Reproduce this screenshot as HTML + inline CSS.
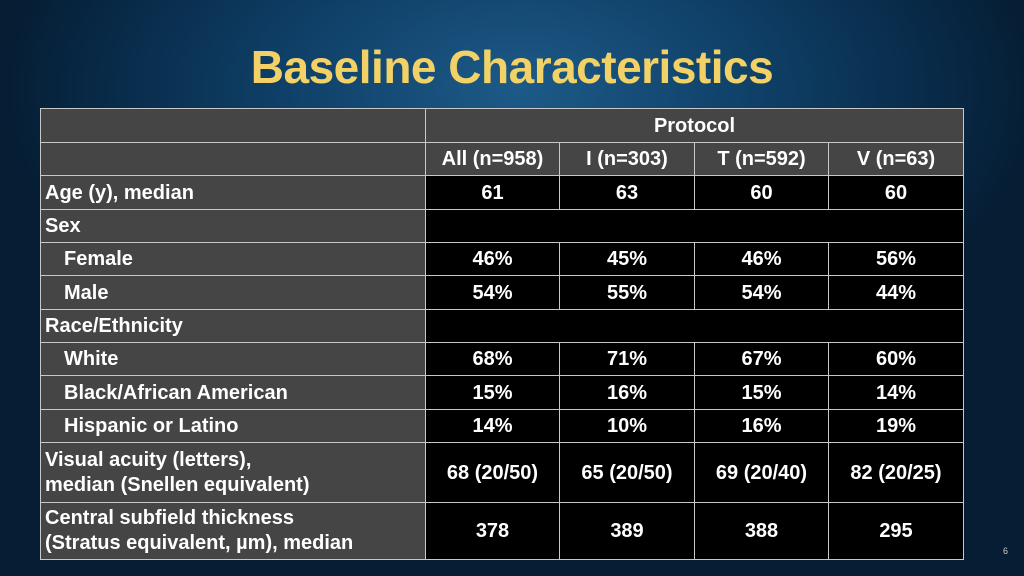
<!DOCTYPE html>
<html><head><meta charset="utf-8"><style>
body{margin:0;width:1024px;height:576px;overflow:hidden;font-family:"Liberation Sans",Arial,sans-serif;
background:radial-gradient(ellipse 520px 300px at 520px 90px,#1d5a88 0%,#0f4068 45%,#082a48 80%,#061d33 100%);position:relative}
h1{position:absolute;left:0;width:1024px;top:40px;margin:0;text-align:center;color:#f2d267;font-size:46px;font-weight:bold;letter-spacing:-0.5px}
table{position:absolute;left:40px;top:108px;border-collapse:collapse;table-layout:fixed;width:924px}
td{border:1.5px solid #c8c8c8;color:#fff;font-weight:bold;font-size:20px;padding:0;text-align:center;background:#000;height:31px;line-height:22px}
td.l{background:#454545;text-align:left;padding-left:4px}
td.h{background:#454545}
td.i{padding-left:23px}
.pg{position:absolute;left:1003px;top:546px;color:#ccc;font-size:9px}
</style></head><body>
<h1>Baseline Characteristics</h1>
<table>
<colgroup><col style="width:385px"><col style="width:134px"><col style="width:135px"><col style="width:134px"><col style="width:135px"></colgroup>
<tr style="height:34px"><td class="l"></td><td class="h" colspan="4">Protocol</td></tr>
<tr style="height:33px"><td class="l"></td><td class="h">All (n=958)</td><td class="h">I (n=303)</td><td class="h">T (n=592)</td><td class="h">V (n=63)</td></tr>
<tr style="height:34px"><td class="l">Age (y), median</td><td>61</td><td>63</td><td>60</td><td>60</td></tr>
<tr style="height:33px"><td class="l">Sex</td><td colspan="4"></td></tr>
<tr style="height:33px"><td class="l i">Female</td><td>46%</td><td>45%</td><td>46%</td><td>56%</td></tr>
<tr style="height:34px"><td class="l i">Male</td><td>54%</td><td>55%</td><td>54%</td><td>44%</td></tr>
<tr style="height:33px"><td class="l">Race/Ethnicity</td><td colspan="4"></td></tr>
<tr style="height:33px"><td class="l i">White</td><td>68%</td><td>71%</td><td>67%</td><td>60%</td></tr>
<tr style="height:34px"><td class="l i">Black/African American</td><td>15%</td><td>16%</td><td>15%</td><td>14%</td></tr>
<tr style="height:33px"><td class="l i">Hispanic or Latino</td><td>14%</td><td>10%</td><td>16%</td><td>19%</td></tr>
<tr style="height:60px"><td class="l" style="line-height:25px">Visual acuity (letters),<br>median (Snellen equivalent)</td><td>68 (20/50)</td><td>65 (20/50)</td><td>69 (20/40)</td><td>82 (20/25)</td></tr>
<tr style="height:57px"><td class="l" style="line-height:25px">Central subfield thickness<br>(Stratus equivalent, µm), median</td><td>378</td><td>389</td><td>388</td><td>295</td></tr>
</table>
<div class="pg">6</div>
</body></html>
